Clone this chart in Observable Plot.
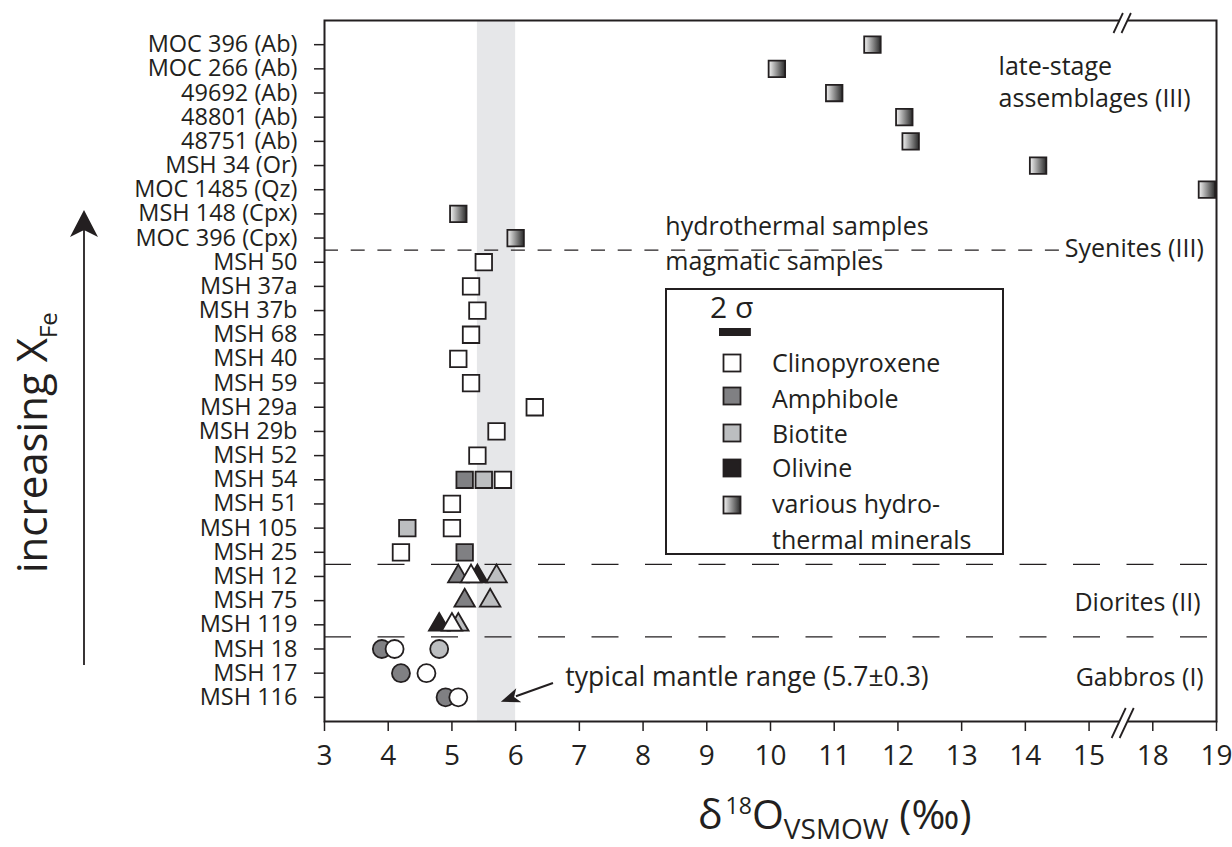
<!DOCTYPE html>
<html>
<head>
<meta charset="utf-8">
<script src="https://cdn.jsdelivr.net/npm/d3@7"></script>
<script src="https://cdn.jsdelivr.net/npm/@observablehq/plot@0.6"></script>
<style>
  body { margin: 0; background: #fff; }
  #chart { position: relative; width: 1232px; height: 847px; }
  svg { font-family: "Open Sans", sans-serif; }
</style>
</head>
<body>
<div id="chart"></div>
<script>
// ---------- data ----------
const samples = [
  "MOC 396 (Ab)", "MOC 266 (Ab)", "49692 (Ab)", "48801 (Ab)", "48751 (Ab)",
  "MSH 34 (Or)", "MOC 1485 (Qz)", "MSH 148 (Cpx)", "MOC 396 (Cpx)",
  "MSH 50", "MSH 37a", "MSH 37b", "MSH 68", "MSH 40", "MSH 59", "MSH 29a",
  "MSH 29b", "MSH 52", "MSH 54", "MSH 51", "MSH 105", "MSH 25",
  "MSH 12", "MSH 75", "MSH 119",
  "MSH 18", "MSH 17", "MSH 116"
];
const dioriteSamples = ["MSH 12", "MSH 75", "MSH 119"];
const gabbroSamples = ["MSH 18", "MSH 17", "MSH 116"];

const hydroSamples = ["MOC 396 (Ab)", "MOC 266 (Ab)", "49692 (Ab)", "48801 (Ab)", "48751 (Ab)", "MSH 34 (Or)", "MOC 1485 (Qz)", "MSH 148 (Cpx)", "MOC 396 (Cpx)"];
const hydroValues  = [11.6, 10.1, 11.0, 12.1, 12.2, 14.2, 18.85, 5.1, 6.0];

const cpxSamples = ["MSH 50", "MSH 37a", "MSH 37b", "MSH 68", "MSH 40", "MSH 59", "MSH 29a", "MSH 29b", "MSH 52", "MSH 54", "MSH 51", "MSH 105", "MSH 25", "MSH 12", "MSH 119", "MSH 18", "MSH 17", "MSH 116"];
const cpxValues  = [5.5, 5.3, 5.4, 5.3, 5.1, 5.3, 6.3, 5.7, 5.4, 5.8, 5.0, 5.0, 4.2, 5.3, 5.0, 4.1, 4.6, 5.1];

const amphSamples = ["MSH 54", "MSH 25", "MSH 12", "MSH 75", "MSH 18", "MSH 17", "MSH 116"];
const amphValues  = [5.2, 5.2, 5.1, 5.2, 3.9, 4.2, 4.9];

const bioSamples = ["MSH 54", "MSH 105", "MSH 12", "MSH 75", "MSH 119", "MSH 18"];
const bioValues  = [5.5, 4.3, 5.7, 5.6, 5.1, 4.8];

const olSamples = ["MSH 12", "MSH 119"];
const olValues  = [5.4, 4.8];

const xTickValues = [3, 4, 5, 6, 7, 8, 9, 10, 11, 12, 13, 14, 15, 18, 19];
const mantleRange = [5.4, 6.0];   // 5.7 ± 0.3
const twoSigma = 0.5;
const legendItems = ["Clinopyroxene", "Amphibole", "Biotite", "Olivine", "various hydro-"];

// ---------- helpers ----------
const INK = "#231f20";
const FONT = "'Open Sans', sans-serif";
const C_CPX = "#ffffff", C_AMPH = "#808083", C_BIO = "#bcbec0", C_OL = "#231f20", C_HYD = "url(#hydroGrad)";
const X = v => (v > 16 ? v - 2 : v);           // broken axis: 16–17 omitted
const Xinv = p => (p > 15.5 ? p + 2 : p);
const breakPos = 15.55;
const rowOf = new Map(samples.map((s, i) => [s, i]));
const shapeOf = s => gabbroSamples.includes(s) ? "circle" : dioriteSamples.includes(s) ? "triangle" : "square";
const pts = (ss, vs) => ss.map((s, i) => ({sample: s, row: rowOf.get(s), x: X(vs[i]), shape: shapeOf(s)}));
const R = {square: 9.3, triangle: 7.6, circle: 9};
function mineral(ss, vs, fill) {
  const data = pts(ss, vs);
  return ["square", "triangle", "circle"].map(sh =>
    Plot.dot(data.filter(d => d.shape === sh), {
      x: "x", y: "row", symbol: sh, r: R[sh], fill, stroke: INK, strokeWidth: 1.8
    }));
}

function breakMarks(index, scales, values, dims) {
  const px = scales.x(breakPos);
  const top = dims.marginTop, bot = dims.height - dims.marginBottom;
  const g = d3.create("svg:g");
  [[top, 7, 13], [bot, 13, 17]].forEach(([y0, up, down]) => {
    g.append("rect").attr("x", px - 4).attr("y", y0 - 3).attr("width", 8).attr("height", 6).attr("fill", "white");
    [-4, 4].forEach(o => g.append("line")
      .attr("x1", px + o - down * 0.47).attr("y1", y0 + down)
      .attr("x2", px + o + up * 0.47).attr("y2", y0 - up)
      .attr("stroke", INK).attr("stroke-width", 1.8));
  });
  return g.node();
}

function mantleArrow(index, scales) {
  const x1 = scales.x(6.594), y1 = scales.y(26.43);
  const x2 = scales.x(5.776), y2 = scales.y(27.2);
  const a = Math.atan2(y2 - y1, x2 - x1);
  const L = 19, W = 7.5;
  const bx = x2 - L * Math.cos(a), by = y2 - L * Math.sin(a);
  const g = d3.create("svg:g");
  g.append("line").attr("x1", x1).attr("y1", y1).attr("x2", bx + 3 * Math.cos(a)).attr("y2", by + 3 * Math.sin(a))
    .attr("stroke", INK).attr("stroke-width", 2);
  const nx = -Math.sin(a), ny = Math.cos(a);
  g.append("path").attr("fill", INK).attr("d",
    `M${x2},${y2}L${bx + nx * W},${by + ny * W}L${bx + 5 * Math.cos(a)},${by + 5 * Math.sin(a)}L${bx - nx * W},${by - ny * W}Z`);
  return g.node();
}

const txt = (text, x, y, anchor, size = 25) => Plot.text([text], {
  x: () => x, y: () => y, text: d => d, textAnchor: anchor, fontSize: size, fill: INK, lineAnchor: "middle"
});

// ---------- plot ----------
const plot = Plot.plot({
  width: 1232, height: 847,
  marginLeft: 324, marginRight: 16, marginTop: 20, marginBottom: 126,
  x: {domain: [X(3), X(19)], label: null},
  y: {domain: [-1, samples.length], reverse: true, label: null},
  style: {fontFamily: FONT, color: INK, background: "white", overflow: "visible"},
  marks: [
    Plot.rect([mantleRange], {x1: d => X(d[0]), x2: d => X(d[1]), fill: "#e6e7e9"}),
    Plot.ruleY([8.5], {y: d => d, x1: () => 3, x2: () => 14.6, stroke: INK, strokeWidth: 1.2, strokeDasharray: "14,12.7"}),
    Plot.ruleY([21.5, 24.5], {y: d => d, stroke: INK, strokeWidth: 1.2, strokeDasharray: "27,26.5"}),
    Plot.frame({stroke: INK, strokeWidth: 2}),
    Plot.axisY({ticks: d3.range(samples.length), tickFormat: i => samples[i], tickSize: 10, tickPadding: 17,
      fontSize: 23.5, color: INK, strokeWidth: 1.5, label: null}),
    Plot.axisX({ticks: xTickValues.map(X), tickFormat: p => String(Xinv(p)), tickSize: 10, tickPadding: 14,
      fontSize: 28, color: INK, strokeWidth: 1.5, label: null}),
    ...mineral(olSamples, olValues, C_OL),
    ...mineral(amphSamples, amphValues, C_AMPH),
    ...mineral(bioSamples, bioValues, C_BIO),
    ...mineral(cpxSamples, cpxValues, C_CPX),
    ...mineral(hydroSamples, hydroValues, C_HYD),
    txt("late-stage", 13.58, 0.92, "start"),
    txt("assemblages (III)", 13.58, 2.24, "start"),
    txt("hydrothermal samples", 8.35, 7.55, "start"),
    txt("magmatic samples", 8.35, 9.0, "start"),
    txt("Syenites (III)", 16.8, 8.45, "end"),
    txt("Diorites (II)", 16.75, 23.09, "end"),
    txt("Gabbros (I)", 16.8, 26.2, "end"),
    txt("typical mantle range (5.7±0.3)", 6.78, 26.19, "start", 26.5),
    breakMarks,
    mantleArrow
  ]
});

document.getElementById("chart").appendChild(plot);
const svg = d3.select(plot);

// gradient for hydrothermal minerals
const defs = svg.insert("defs", ":first-child");
const grad = defs.append("linearGradient").attr("id", "hydroGrad").attr("x1", 0).attr("x2", 1).attr("y1", 0).attr("y2", 0);
grad.append("stop").attr("offset", "0%").attr("stop-color", "#f4f4f4");
grad.append("stop").attr("offset", "100%").attr("stop-color", "#2a2a2a");

// legend
const sx = plot.scale("x");
const lg = svg.append("g").attr("font-family", FONT).attr("fill", INK).attr("text-anchor", "start");
lg.append("rect").attr("x", 666).attr("y", 289).attr("width", 337).attr("height", 265)
  .attr("fill", "white").attr("stroke", INK).attr("stroke-width", 2);
lg.append("text").attr("x", 710).attr("y", 318).attr("font-size", 30).text("2 σ");
lg.append("rect").attr("x", 719).attr("y", 328).attr("width", sx.apply(3 + twoSigma) - sx.apply(3)).attr("height", 8).attr("fill", INK);
const legFills = [C_CPX, C_AMPH, C_BIO, C_OL, C_HYD];
const sqY = [363, 396, 433, 468, 505];
const txY = [372, 408, 443, 477, 513];
legendItems.forEach((name, i) => {
  lg.append("rect").attr("x", 732 - 8.5).attr("y", sqY[i] - 8.5).attr("width", 17).attr("height", 17)
    .attr("fill", legFills[i]).attr("stroke", INK).attr("stroke-width", 1.8);
  lg.append("text").attr("x", 772).attr("y", txY[i]).attr("font-size", 25).text(name);
});
lg.append("text").attr("x", 772).attr("y", 549).attr("font-size", 25).text("thermal minerals");

// x-axis title
const xt = svg.append("text").attr("x", 698).attr("y", 829).attr("font-size", 41).attr("fill", INK)
  .attr("text-anchor", "start").attr("font-family", FONT);
xt.append("tspan").text("δ");
xt.append("tspan").attr("dx", 3).attr("dy", -15).attr("font-size", 23).text("18");
xt.append("tspan").attr("dy", 15).text("O");
xt.append("tspan").attr("dy", 10).attr("font-size", 28).text("VSMOW");
xt.append("tspan").attr("dy", -10).text(" (‰)");

// y-axis title and arrow
const yt = svg.append("text").attr("transform", "translate(47,573) rotate(-90)").attr("font-size", 42)
  .attr("fill", INK).attr("text-anchor", "start").attr("font-family", FONT);
yt.append("tspan").text("increasing X");
yt.append("tspan").attr("dy", 10).attr("font-size", 24).text("Fe");
svg.append("line").attr("x1", 84).attr("x2", 84).attr("y1", 665).attr("y2", 222)
  .attr("stroke", INK).attr("stroke-width", 1.8);
svg.append("path").attr("d", "M84,210L98,237L84,230L70,237Z").attr("fill", INK);
</script>
</body>
</html>
